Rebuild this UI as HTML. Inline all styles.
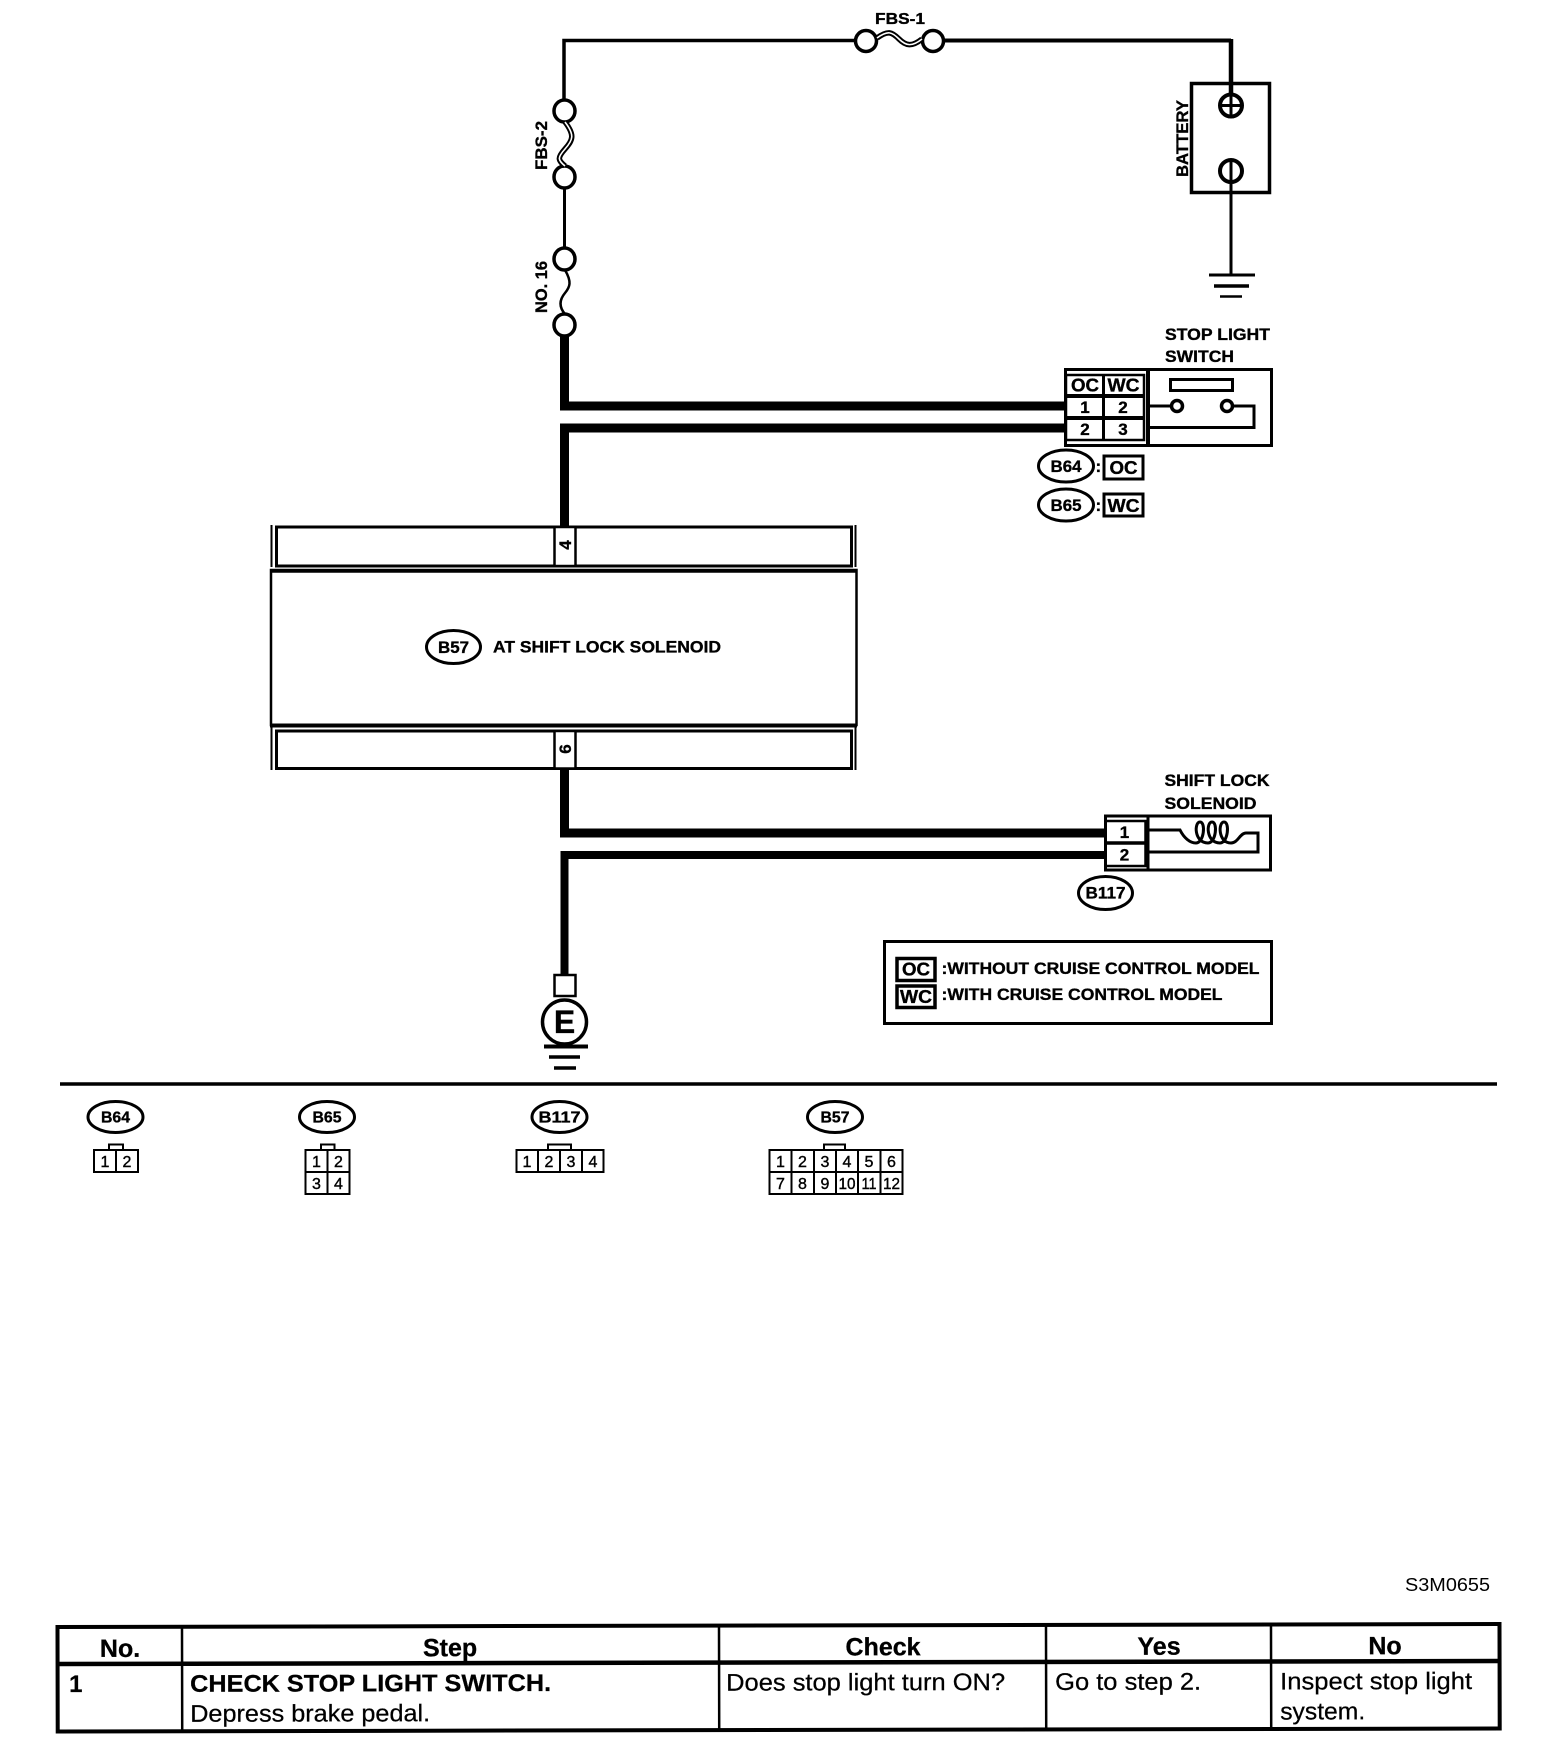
<!DOCTYPE html>
<html><head><meta charset="utf-8"><style>
html,body{margin:0;padding:0;background:#fff;width:1568px;height:1752px;overflow:hidden}
svg{display:block}
text{font-family:"Liberation Sans",sans-serif;fill:#000}
</style></head><body>
<svg width="1568" height="1752" viewBox="0 0 1568 1752" xmlns="http://www.w3.org/2000/svg">
<rect width="1568" height="1752" fill="#fff"/>
<g fill="none" stroke="#000">
<!-- thin top wiring -->
<path d="M564 112V40.500H855" stroke-width="3.500"/>
<path d="M943 40.500H1231" stroke-width="4"/>
<path d="M1231 39V95" stroke-width="4.500"/>
<path d="M564.500 188V247" stroke-width="3"/>
<path d="M1231 184V274" stroke-width="3"/>
<!-- thick wires -->
<path d="M564.500 333V406H1066" stroke-width="9"/>
<path d="M1066 428H564.500V528" stroke-width="9"/>
<path d="M564.500 768V833H1106" stroke-width="9"/>
<path d="M1106 855H564.500V976" stroke-width="8"/>
<!-- fuses -->
<g fill="#fff" stroke-width="3.500">
<ellipse cx="866" cy="41" rx="10.500" ry="10.500"/><ellipse cx="933" cy="41" rx="10.500" ry="10.500"/>
<ellipse cx="564.500" cy="111" rx="10.500" ry="11"/><ellipse cx="564.500" cy="177" rx="10.500" ry="11"/>
<ellipse cx="564.500" cy="259" rx="10.500" ry="11"/><ellipse cx="564.500" cy="325" rx="10.500" ry="11"/>
</g>
<path d="M877 38C888 30 892 32 899 39S912 47 922 39" stroke-width="5.500"/>
<path d="M877 38C888 30 892 32 899 39S912 47 922 39" stroke="#fff" stroke-width="1.600"/>
<path d="M565 122C575 135 573 140 565 149S558 160 565 166" stroke-width="5.500"/>
<path d="M565 122C575 135 573 140 565 149S558 160 565 166" stroke="#fff" stroke-width="1.600"/>
<path d="M565 270C572 282 570 287 565 293S558 306 565 314" stroke-width="2.500"/>
<!-- battery -->
<rect x="1191.500" y="83.500" width="78" height="109" stroke-width="3.500"/>
<circle cx="1231" cy="105.500" r="11" stroke-width="4"/><path d="M1220 105.500H1242M1231 95V117" stroke-width="3"/>
<circle cx="1231" cy="171" r="11" stroke-width="4"/><path d="M1231 160V184" stroke-width="3"/>
<path d="M1209 275H1255" stroke-width="3"/><path d="M1214 286H1249" stroke-width="3.500"/><path d="M1220 296.500H1242" stroke-width="2.500"/>
<!-- stop light switch -->
<rect x="1065.500" y="369.500" width="206" height="76" stroke-width="3"/>
<path d="M1148 368V446" stroke-width="4"/>
<rect x="1066" y="375" width="78" height="65" stroke-width="2.500"/>
<path d="M1066 396H1144M1066 418H1144" stroke-width="4"/>
<path d="M1103.500 375V440" stroke-width="3"/>
<rect x="1170.500" y="379.500" width="62" height="11" stroke-width="3"/>
<path d="M1147 406H1171M1233 406H1254V427.500H1147" stroke-width="3"/>
<circle cx="1177" cy="406" r="5.500" stroke-width="3.500" fill="#fff"/>
<circle cx="1227" cy="406" r="5.500" stroke-width="3.500" fill="#fff"/>
<!-- B64/B65 -->
<ellipse cx="1066" cy="466" rx="27.500" ry="16" stroke-width="3"/>
<ellipse cx="1066" cy="505" rx="27.500" ry="16" stroke-width="3"/>
<rect x="1104" y="456" width="39" height="23" stroke-width="3"/>
<rect x="1104" y="494" width="39" height="22" stroke-width="3"/>
<!-- main block -->
<rect x="276.500" y="527" width="575" height="39" stroke-width="3"/>
<path d="M271.500 525V567M855.500 525V567" stroke-width="2"/>
<rect x="271" y="570" width="585.500" height="155" stroke-width="2.500"/>
<path d="M270 571H857" stroke-width="3.500"/><path d="M270 725.500H857" stroke-width="4"/>
<rect x="276.500" y="731" width="575" height="37.500" stroke-width="3"/>
<path d="M271.500 725V770M855.500 725V770" stroke-width="2"/>
<rect x="554.500" y="527" width="21" height="39" stroke-width="2.500" fill="#fff"/>
<rect x="554.500" y="731" width="21" height="37.500" stroke-width="2.500" fill="#fff"/>
<ellipse cx="453.500" cy="647" rx="27" ry="16.500" stroke-width="3"/>
<!-- shift lock solenoid -->
<rect x="1105.500" y="816" width="165" height="54" stroke-width="3"/>
<path d="M1148 815V871" stroke-width="3"/>
<rect x="1105.500" y="821" width="40" height="45" stroke-width="2.500"/>
<path d="M1105 843H1146" stroke-width="3.500"/>
<path d="M1148 830H1180C1184 838 1190 843 1196 843C1204 843 1206 822 1200 822C1194 822 1194 843 1208 843C1216 843 1218 822 1212 822C1206 822 1206 843 1220 843C1228 843 1230 822 1224 822C1218 822 1218 843 1231 843C1238 843 1240 833 1246 833H1258V852H1147" stroke-width="3"/>
<ellipse cx="1105.500" cy="893" rx="27" ry="16.500" stroke-width="3"/>
<!-- legend -->
<rect x="884.500" y="941.500" width="387" height="82" stroke-width="3"/>
<rect x="897" y="958.500" width="38" height="22" stroke-width="3.500"/>
<rect x="897" y="986" width="38" height="21.500" stroke-width="3.500"/>
<!-- ground E -->
<rect x="554.500" y="975" width="21" height="21" stroke-width="2.500" fill="#fff"/>
<circle cx="564.500" cy="1022" r="22" stroke-width="3.500" fill="#fff"/>
<path d="M544 1046.500H588" stroke-width="4"/><path d="M549 1057H580" stroke-width="3.500"/><path d="M554 1068H576" stroke-width="3.500"/>
<!-- divider -->
<path d="M60 1084H1497" stroke-width="3.500"/>
<!-- connector ellipses -->
<ellipse cx="115.500" cy="1117" rx="27.500" ry="15.500" stroke-width="3"/>
<ellipse cx="327" cy="1117" rx="27.500" ry="15.500" stroke-width="3"/>
<ellipse cx="559.500" cy="1117" rx="27.500" ry="15.500" stroke-width="3"/>
<ellipse cx="835" cy="1117" rx="27.500" ry="15.500" stroke-width="3"/>
<!-- connector grids -->
<g stroke-width="2">
<rect x="94" y="1150" width="44" height="22"/><path d="M116 1150V1172M109 1150V1144.500H123V1150"/>
<rect x="305.500" y="1150" width="44" height="44"/><path d="M327.500 1150V1194M305 1172H350M321 1150V1144.500H334.500V1150"/>
<rect x="516.500" y="1150" width="87" height="22"/><path d="M538 1150V1172M560 1150V1172M582 1150V1172M548 1150V1144.500H571V1150"/>
<rect x="769.500" y="1150" width="133" height="44"/><path d="M791.500 1150V1194M814 1150V1194M836 1150V1194M858 1150V1194M880.500 1150V1194M769 1172H903M824 1150V1144.500H845V1150"/>
</g>
</g>

<!-- labels -->
<g font-weight="bold" stroke="#000" stroke-width=".35">
<text x="875" y="24" font-size="16" textLength="50" lengthAdjust="spacingAndGlyphs">FBS-1</text>
<text transform="translate(547 170) rotate(-90)" font-size="16.500" textLength="49" lengthAdjust="spacingAndGlyphs">FBS-2</text>
<text transform="translate(547 313) rotate(-90)" font-size="16.500" textLength="52" lengthAdjust="spacingAndGlyphs">NO. 16</text>
<text transform="translate(1188 177) rotate(-90)" font-size="17" textLength="77" lengthAdjust="spacingAndGlyphs">BATTERY</text>
<text x="1165" y="340" font-size="16.500" textLength="105" lengthAdjust="spacingAndGlyphs">STOP LIGHT</text>
<text x="1165" y="362" font-size="16.500" textLength="69" lengthAdjust="spacingAndGlyphs">SWITCH</text>
<text x="1085" y="391.500" font-size="18" text-anchor="middle" textLength="28" lengthAdjust="spacingAndGlyphs">OC</text>
<text x="1123.500" y="391.500" font-size="18" text-anchor="middle" textLength="32" lengthAdjust="spacingAndGlyphs">WC</text>
<text x="1085" y="413" font-size="17" text-anchor="middle">1</text><text x="1123" y="413" font-size="17" text-anchor="middle">2</text>
<text x="1085" y="435" font-size="17" text-anchor="middle">2</text><text x="1123" y="435" font-size="17" text-anchor="middle">3</text>
<text x="1066" y="472" font-size="17" text-anchor="middle" textLength="31" lengthAdjust="spacingAndGlyphs">B64</text>
<text x="1066" y="511" font-size="17" text-anchor="middle" textLength="31" lengthAdjust="spacingAndGlyphs">B65</text>
<text x="1095.500" y="472" font-size="17">:</text><text x="1095.500" y="511" font-size="17">:</text>
<text x="1123.500" y="474" font-size="18" text-anchor="middle" textLength="28" lengthAdjust="spacingAndGlyphs">OC</text>
<text x="1123.500" y="512" font-size="18" text-anchor="middle" textLength="32" lengthAdjust="spacingAndGlyphs">WC</text>
<text transform="translate(571 545) rotate(-90)" font-size="17" text-anchor="middle">4</text>
<text transform="translate(571 749) rotate(-90)" font-size="17" text-anchor="middle">6</text>
<text x="453.500" y="653" font-size="16.500" text-anchor="middle" textLength="31" lengthAdjust="spacingAndGlyphs">B57</text>
<text x="493" y="652.500" font-size="17" textLength="228" lengthAdjust="spacingAndGlyphs">AT SHIFT LOCK SOLENOID</text>
<text x="1164.500" y="786" font-size="16.500" textLength="105" lengthAdjust="spacingAndGlyphs">SHIFT LOCK</text>
<text x="1164.500" y="809" font-size="16.500" textLength="92" lengthAdjust="spacingAndGlyphs">SOLENOID</text>
<text x="1124.500" y="838" font-size="17" text-anchor="middle">1</text>
<text x="1124.500" y="860.500" font-size="17" text-anchor="middle">2</text>
<text x="1105.500" y="898.500" font-size="16.500" text-anchor="middle" textLength="40" lengthAdjust="spacingAndGlyphs">B117</text>
<text x="916" y="975.500" font-size="18" text-anchor="middle" textLength="28" lengthAdjust="spacingAndGlyphs">OC</text>
<text x="916" y="1003" font-size="18" text-anchor="middle" textLength="32" lengthAdjust="spacingAndGlyphs">WC</text>
<text x="941.500" y="974" font-size="17" textLength="318" lengthAdjust="spacingAndGlyphs">:WITHOUT CRUISE CONTROL MODEL</text>
<text x="941.500" y="1000" font-size="17" textLength="281" lengthAdjust="spacingAndGlyphs">:WITH CRUISE CONTROL MODEL</text>
<text x="564.500" y="1033" font-size="32" text-anchor="middle">E</text>
<text x="115.500" y="1122.500" font-size="16" text-anchor="middle" textLength="29" lengthAdjust="spacingAndGlyphs">B64</text>
<text x="327" y="1122.500" font-size="16" text-anchor="middle" textLength="29" lengthAdjust="spacingAndGlyphs">B65</text>
<text x="559.500" y="1122.500" font-size="16" text-anchor="middle" textLength="42" lengthAdjust="spacingAndGlyphs">B117</text>
<text x="835" y="1122.500" font-size="16" text-anchor="middle" textLength="29" lengthAdjust="spacingAndGlyphs">B57</text>
</g>
<g font-size="16" text-anchor="middle" stroke="#000" stroke-width=".4">
<text x="105" y="1167">1</text><text x="127" y="1167">2</text>
<text x="316.500" y="1167">1</text><text x="338.500" y="1167">2</text><text x="316.500" y="1189">3</text><text x="338.500" y="1189">4</text>
<text x="527" y="1167">1</text><text x="549" y="1167">2</text><text x="571" y="1167">3</text><text x="593" y="1167">4</text>
<text x="780.500" y="1167">1</text><text x="802.500" y="1167">2</text><text x="825" y="1167">3</text><text x="847" y="1167">4</text><text x="869" y="1167">5</text><text x="891.500" y="1167">6</text>
<text x="780.500" y="1189">7</text><text x="802.500" y="1189">8</text><text x="825" y="1189">9</text>
<text x="847" y="1189" textLength="17" lengthAdjust="spacingAndGlyphs">10</text><text x="869" y="1189" textLength="15" lengthAdjust="spacingAndGlyphs">11</text><text x="891.500" y="1189" textLength="17" lengthAdjust="spacingAndGlyphs">12</text>
</g>
<text x="1405" y="1591" font-size="18" textLength="85" lengthAdjust="spacingAndGlyphs">S3M0655</text>

<!-- table -->
<g transform="rotate(-0.12 57 1630)">
<g fill="none" stroke="#000">
<rect x="57.500" y="1627" width="1442" height="104.500" stroke-width="4"/>
<path d="M56 1664H1500" stroke-width="4.500"/>
<path d="M182 1627V1731M719 1627V1731M1046 1627V1731M1271 1627V1731" stroke-width="2.500"/>
</g>
<g font-size="24" stroke="#000" stroke-width=".25">
<g font-weight="bold" text-anchor="middle" font-size="25" stroke-width=".3">
<text x="120" y="1657">No.</text><text x="450" y="1657">Step</text><text x="883" y="1657">Check</text><text x="1159" y="1657">Yes</text><text x="1385" y="1657">No</text>
</g>
<text x="69" y="1692" font-weight="bold">1</text>
<text x="190" y="1692" font-weight="bold" textLength="361" lengthAdjust="spacingAndGlyphs">CHECK STOP LIGHT SWITCH.</text>
<text x="190" y="1722" textLength="240" lengthAdjust="spacingAndGlyphs">Depress brake pedal.</text>
<text x="726" y="1692" textLength="279" lengthAdjust="spacingAndGlyphs">Does stop light turn ON?</text>
<text x="1055" y="1692" textLength="146" lengthAdjust="spacingAndGlyphs">Go to step 2.</text>
<text x="1280" y="1692" textLength="192" lengthAdjust="spacingAndGlyphs">Inspect stop light</text>
<text x="1280" y="1722" textLength="85" lengthAdjust="spacingAndGlyphs">system.</text>
</g>
</g>
</svg>
</body></html>
